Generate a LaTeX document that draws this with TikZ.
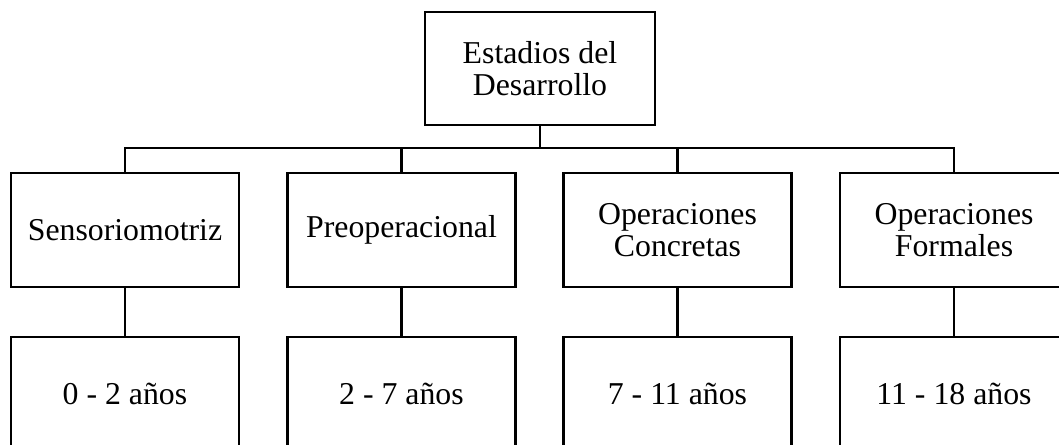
\documentclass[tikz,border=0pt]{standalone}
\usepackage{fontspec}
\setmainfont{Liberation Serif}
\begin{document}
\begin{tikzpicture}[x=1pt,y=-1pt,
  box/.style={draw,line width=2.2pt,minimum width=228pt,minimum height=114pt,inner sep=0pt,align=center,font=\fontsize{31.8}{32}\selectfont},
  link/.style={line width=2.2pt}]
\clip (0,0) rectangle (1059,444);
\fill[white] (0,0) rectangle (1059,444);
\node[box,minimum width=230pt,minimum height=113pt] (root) at (540,68.5) {Estadios del\\Desarrollo};
\node[box] (s1) at (125,230) {Sensoriomotriz};
\node[box] (s2) at (401.5,230) {Preoperacional};
\node[box] (s3) at (677.5,230) {Operaciones\\Concretas};
\node[box] (s4) at (954,230) {Operaciones\\Formales};
\node[box] (a1) at (125,394) {0 - 2 años};
\node[box] (a2) at (401.5,394) {2 - 7 años};
\node[box] (a3) at (677.5,394) {7 - 11 años};
\node[box] (a4) at (954,394) {11 - 18 años};
\coordinate (bus) at (540,148);
\draw[link] (root.south) -- (bus);
\draw[link] (s1.north) |- (bus) -| (s4.north);
\draw[link] (s2.north) -- (s2.north |- bus);
\draw[link] (s3.north) -- (s3.north |- bus);
\foreach \i in {1,2,3,4}{\draw[link] (s\i.south) -- (a\i.north);}
\end{tikzpicture}
\end{document}
